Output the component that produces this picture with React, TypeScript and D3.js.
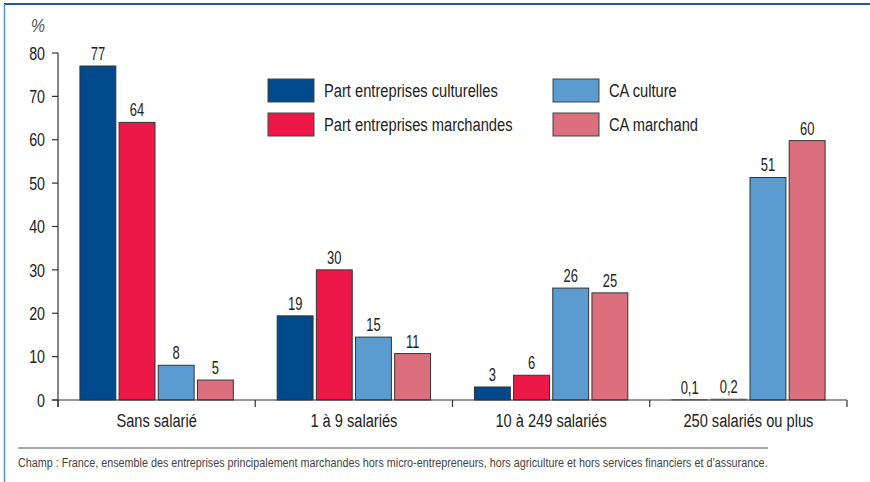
import React, { useLayoutEffect, useRef, useState } from "react";
import * as d3 from "d3";

const categories = ["Sans salarié", "1 à 9 salariés", "10 à 249 salariés", "250 salariés ou plus"];
const seriesNames = ["Part entreprises culturelles", "Part entreprises marchandes", "CA culture", "CA marchand"];
const partCulture = [77, 19.4, 3, 0.1];
const partMarchand = [64, 30, 5.7, 0.2];
const caCulture = [8, 14.5, 25.8, 51.3];
const caMarchand = [4.6, 10.7, 24.7, 59.8];
const yTicks = [0, 10, 20, 30, 40, 50, 60, 70, 80];
const colors = ["#004a8c", "#ee1848", "#5b9bd0", "#dc6f7d"];
const footer = "Champ : France, ensemble des entreprises principalement marchandes hors micro-entrepreneurs, hors agriculture et hors services financiers et d\u2019assurance.";

const seriesValues = [partCulture, partMarchand, caCulture, caMarchand];
const FONT = "'Liberation Sans', Arial, sans-serif";
const SX = 0.77;

const fmt = (v: number) => (v < 1 ? String(v).replace(".", ",") : String(Math.round(v)));

function T(props: { x: number; y: number; size: number; anchor?: string; fill?: string; italic?: boolean; dy?: string; sx?: number; children: React.ReactNode }) {
  const { x, y, size, anchor = "start", fill = "#222", italic, dy, sx = SX } = props;
  return (
    <text
      transform={`translate(${x},${y}) scale(${sx},1)`}
      fontSize={size}
      textAnchor={anchor as any}
      fill={fill}
      fontStyle={italic ? "italic" : undefined}
      dy={dy}
    >
      {props.children}
    </text>
  );
}

export default function App() {
  const W = 870, H = 482;
  const x0 = d3.scaleBand<string>().domain(categories).range([58, 847]).paddingInner(0).paddingOuter(0);
  const x1 = d3.scaleBand<string>().domain(seriesNames).range([0, x0.bandwidth()]).paddingInner(0.084).paddingOuter(0.56);
  const y = d3.scaleLinear().domain([0, 80]).range([400, 53]);

  const footRef = useRef<SVGTextElement>(null);
  const [footSx, setFootSx] = useState(0.8);
  useLayoutEffect(() => {
    if (footRef.current) {
      const len = footRef.current.getComputedTextLength();
      if (len > 0) setFootSx(750 / len);
    }
  }, []);

  return (
    <div style={{ position: "absolute", left: 0, top: 0 }}>
      <svg width={W} height={H} style={{ display: "block", fontFamily: FONT }}>
        <rect x={0} y={0} width={W} height={H} fill="#fff" />
        {/* frame */}
        <line x1={4} y1={4} x2={W} y2={4} stroke="#1f5aa6" strokeWidth={2} />
        <line x1={4.5} y1={4} x2={4.5} y2={H} stroke="#5b8ed0" strokeWidth={1.5} />
        {/* % label */}
        <T x={38} y={32} size={19} anchor="middle" fill="#555" italic sx={0.85}>%</T>
        {/* y axis */}
        <line x1={58} y1={y(80)} x2={58} y2={407} stroke="#333" strokeWidth={1.2} />
        {yTicks.map((t) => (
          <g key={t}>
            <line x1={52} x2={58} y1={y(t)} y2={y(t)} stroke="#333" strokeWidth={1.2} />
            <T x={45} y={y(t)} dy="0.36em" anchor="end" size={18.5}>{t}</T>
          </g>
        ))}
        {/* bars */}
        {categories.map((c, ci) => (
          <g key={c} transform={`translate(${x0(c)},0)`}>
            {seriesNames.map((s, si) => {
              const v = seriesValues[si][ci];
              const bx = x1(s)!;
              return (
                <g key={s}>
                  <rect x={bx} y={y(v)} width={x1.bandwidth()} height={y(0) - y(v)} fill={colors[si]} stroke={v < 1 ? "#888" : "#333"} strokeWidth={1} />
                  <T x={bx + x1.bandwidth() / 2} y={y(v) - 6} anchor="middle" size={17.5} sx={0.74}>{fmt(v)}</T>
                </g>
              );
            })}
          </g>
        ))}
        {/* x axis */}
        <line x1={52} x2={847} y1={400} y2={400} stroke="#333" strokeWidth={1.2} />
        {categories.map((c) => (
          <line key={c} x1={x0(c)!} x2={x0(c)!} y1={400} y2={407} stroke="#333" strokeWidth={1.2} />
        ))}
        <line x1={847} x2={847} y1={400} y2={407} stroke="#333" strokeWidth={1.2} />
        {categories.map((c) => (
          <T key={c} x={x0(c)! + x0.bandwidth() / 2} y={426.5} anchor="middle" size={19}>{c}</T>
        ))}
        {/* legend */}
        {seriesNames.map((s, i) => {
          const lx = i < 2 ? 268 : 553;
          const ly = i % 2 === 0 ? 79 : 113;
          return (
            <g key={s}>
              <rect x={lx} y={ly} width={46} height={23} fill={colors[i]} stroke="#444" strokeWidth={1} />
              <T x={lx + 56} y={ly + 11.5} dy="0.36em" size={18.6} sx={0.79}>{s}</T>
            </g>
          );
        })}
        {/* footer */}
        <line x1={18} x2={768} y1={448} y2={448} stroke="#555" strokeWidth={1} />
        <text ref={footRef} transform={`translate(18,467) scale(${footSx},1)`} fontSize={13.5} fill="#444">{footer}</text>
      </svg>
    </div>
  );
}
